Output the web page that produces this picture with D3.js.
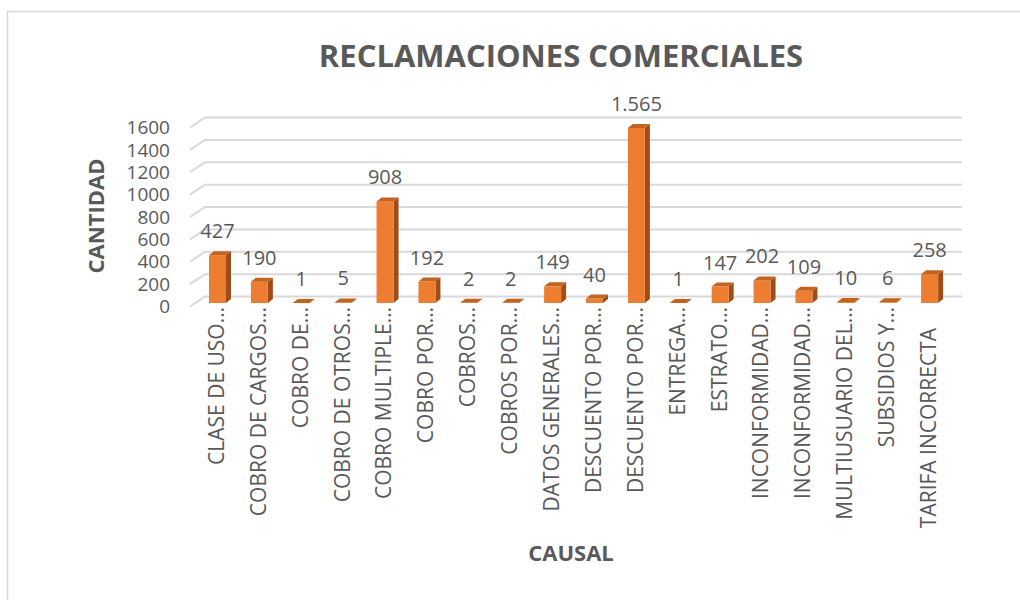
<!DOCTYPE html>
<html>
<head>
<meta charset="utf-8">
<script src="https://cdn.jsdelivr.net/npm/d3@7"></script>
<style>
  body { margin: 0; background: #fff; }
  text { font-family: "Open Sans", sans-serif; fill: #595959; }
</style>
</head>
<body>
<div class="chart"></div>
<script>
var width = 1020,
  height = 600

// data
var categories = ['CLASE DE USO\u2026', 'COBRO DE CARGOS\u2026', 'COBRO DE\u2026', 'COBRO DE OTROS\u2026',
  'COBRO MULTIPLE\u2026', 'COBRO POR\u2026', 'COBROS\u2026', 'COBROS POR\u2026', 'DATOS GENERALES\u2026',
  'DESCUENTO POR\u2026', 'DESCUENTO POR\u2026', 'ENTREGA\u2026', 'ESTRATO\u2026', 'INCONFORMIDAD\u2026',
  'INCONFORMIDAD\u2026', 'MULTIUSUARIO DEL\u2026', 'SUBSIDIOS Y\u2026', 'TARIFA INCORRECTA']
var values = [427, 190, 1, 5, 908, 192, 2, 2, 149, 40, 1565, 1, 147, 202, 109, 10, 6, 258]
var yTicks = [0, 200, 400, 600, 800, 1000, 1200, 1400, 1600]

var chartTitle = 'RECLAMACIONES COMERCIALES',
  xTitle = 'CAUSAL',
  yTitle = 'CANTIDAD'

var esFormat = d3.formatLocale({decimal: ',', thousands: '.', grouping: [3], currency: ['$', '']}).format(',d')

var svg = d3.select('.chart')
  .append('svg')
  .attr('width', width)
  .attr('height', height)

// chart border
svg.append('rect')
  .attr('x', 7.5).attr('y', 11.5)
  .attr('width', 1030).attr('height', 600)
  .attr('fill', 'none')
  .attr('stroke', '#d9d9d9')
  .attr('stroke-width', 1.5)

var xScale = d3.scaleBand()
  .domain(d3.range(categories.length))
  .range([205, 959])

var yScale = d3.scaleLinear()
  .domain([0, 1600])
  .range([303, 124])

var depthX = 5, depthY = 4, barW = 17

// gridlines with 3D floor diagonal
var grid = svg.append('g')
yTicks.forEach(function(t) {
  var y = yScale(t)
  grid.append('path')
    .attr('d', 'M190,' + (y + 3.5) + 'L205,' + (y - 6.5) + 'L962,' + (y - 6.5))
    .attr('fill', 'none')
    .attr('stroke', '#d9d9d9')
    .attr('stroke-width', 2)
})

// y tick labels
svg.selectAll('.ylab')
  .data(yTicks)
  .enter()
  .append('text')
  .attr('class', 'ylab')
  .attr('x', 170)
  .attr('y', function(d) { return yScale(d) + 3.5 })
  .attr('dy', '0.35em')
  .attr('text-anchor', 'end')
  .style('font-size', '19px')
  .text(function(d) { return d })

// bars
var bars = svg.selectAll('.bar')
  .data(values)
  .enter()
  .append('g')
  .attr('class', 'bar')

function bx(i) { return xScale(i) + 4 }

bars.append('path') // side
  .attr('d', function(d, i) {
    var x = bx(i) + barW, y0 = yScale(0), y1 = yScale(d)
    return 'M' + x + ',' + y0 + 'L' + (x + depthX) + ',' + (y0 - depthY) +
      'L' + (x + depthX) + ',' + (y1 - depthY) + 'L' + x + ',' + y1 + 'Z'
  })
  .attr('fill', '#9e4d18')

bars.append('rect') // front
  .attr('x', function(d, i) { return bx(i) })
  .attr('y', function(d) { return yScale(d) })
  .attr('width', barW)
  .attr('height', function(d) { return yScale(0) - yScale(d) })
  .attr('fill', '#ed7d31')

bars.append('path') // top
  .attr('d', function(d, i) {
    var x = bx(i), y1 = yScale(d)
    return 'M' + x + ',' + y1 + 'L' + (x + depthX) + ',' + (y1 - depthY) +
      'L' + (x + barW + depthX) + ',' + (y1 - depthY) + 'L' + (x + barW) + ',' + y1 + 'Z'
  })
  .attr('fill', '#c4621f')

// value labels
svg.selectAll('.vlab')
  .data(values)
  .enter()
  .append('text')
  .attr('class', 'vlab')
  .attr('x', function(d, i) { return bx(i) + barW / 2 })
  .attr('y', function(d) { return yScale(d) - 17 })
  .attr('text-anchor', 'middle')
  .style('font-size', '20px')
  .text(function(d) { return esFormat(d) })

// category labels
svg.selectAll('.xlab')
  .data(categories)
  .enter()
  .append('text')
  .attr('class', 'xlab')
  .attr('transform', function(d, i) {
    var top = d.indexOf('\u2026') < 0 ? 328 : 307
    return 'translate(' + (bx(i) + barW / 2 - 1) + ',' + top + ') rotate(-90)'
  })
  .attr('text-anchor', 'end')
  .attr('dy', '0.35em')
  .style('font-size', '21px')
  .text(function(d) { return d })

// titles
svg.append('text')
  .attr('x', 561).attr('y', 67)
  .attr('text-anchor', 'middle')
  .style('font-size', '31px')
  .style('font-weight', 'bold')
  .text(chartTitle)

svg.append('text')
  .attr('x', 571).attr('y', 561)
  .attr('text-anchor', 'middle')
  .style('font-size', '22px')
  .style('font-weight', 'bold')
  .text(xTitle)

svg.append('text')
  .attr('transform', 'translate(104,216) rotate(-90)')
  .attr('text-anchor', 'middle')
  .style('font-size', '22px')
  .style('font-weight', 'bold')
  .text(yTitle)
</script>
</body>
</html>
